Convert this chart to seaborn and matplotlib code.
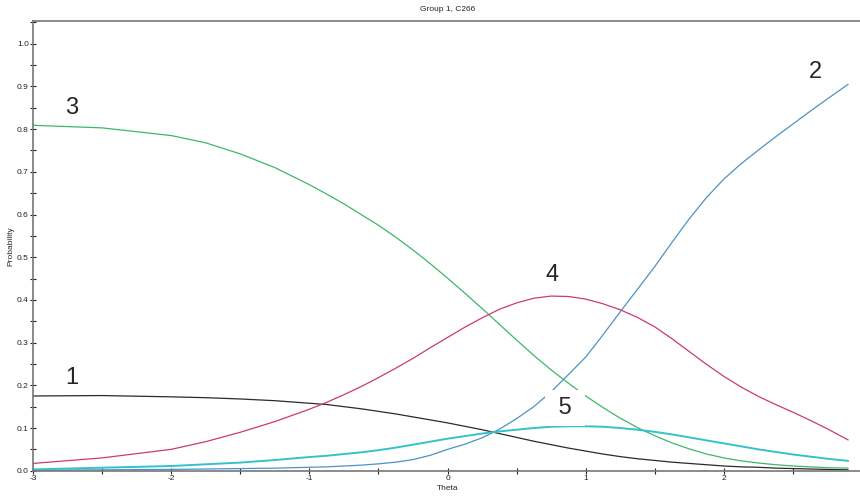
import pandas as pd
import seaborn as sns
from matplotlib import pyplot
from matplotlib.ticker import MultipleLocator

theta = [-3, -2.5, -2, -1.75, -1.5, -1.25, -1, -0.875, -0.75, -0.625,
         -0.5, -0.375, -0.25, -0.125, 0, 0.125, 0.25, 0.375, 0.5, 0.625,
         0.75, 0.875, 1.0, 1.125, 1.25, 1.375, 1.5, 1.625, 1.75, 1.875,
         2.0, 2.125, 2.25, 2.375, 2.5, 2.625, 2.75, 2.9]

## category response curves
cat1 = [.175, .176, .173, .171, .168, .164, .158, .155, .150, .145,
        .139, .133, .126, .119, .112, .104, .096, .087, .078, .069,
        .061, .053, .046, .039, .033, .028, .024, .020, .017, .014,
        .011, .009, .008, .006, .005, .004, .003, .002]
cat2 = [.001, .002, .003, .004, .005, .006, .008, .009, .011, .013,
        .016, .020, .026, .036, .050, .062, .077, .097, .122, .150,
        .185, .225, .266, .318, .372, .425, .478, .535, .590, .640,
        .683, .719, .751, .782, .812, .842, .871, .905]
cat3 = [.809, .803, .785, .768, .742, .710, .670, .648, .625, .600,
        .575, .547, .517, .485, .451, .416, .380, .343, .306, .270,
        .236, .205, .175, .148, .123, .101, .082, .065, .051, .039,
        .030, .023, .018, .014, .011, .009, .007, .006]
cat4 = [.017, .030, .050, .068, .090, .115, .144, .160, .178, .197,
        .218, .240, .263, .288, .312, .336, .358, .378, .393, .404,
        .409, .408, .402, .391, .377, .359, .337, .309, .279, .249,
        .221, .196, .174, .155, .137, .118, .098, .072]
cat5 = [.003, .007, .011, .015, .019, .025, .032, .035, .039, .043,
        .048, .054, .061, .068, .075, .081, .087, .092, .096, .100,
        .103, .104, .104, .103, .100, .096, .091, .085, .078, .071,
        .064, .057, .050, .044, .038, .033, .028, .023]

labels = ['1', '2', '3', '4', '5']
colors = ['#2b2b2b', '#4b93c6', '#3db86a', '#cc3a6e', '#35c1c9']

df = pd.DataFrame({'Theta': theta * 5,
                   'Probability': cat1 + cat2 + cat3 + cat4 + cat5,
                   'cat': [l for l in labels for _ in theta]})

sns.set_style("ticks")
pyplot.rcParams['font.family'] = ['Liberation Sans', 'DejaVu Sans']
pyplot.rcParams['axes.unicode_minus'] = False

fig = pyplot.figure(figsize=(8.6, 5.01), dpi=100)
ax = fig.add_axes([33 / 860, 1 - 470.7 / 501, (862 - 33) / 860, 450 / 501])

sns.lineplot(data=df, x='Theta', y='Probability', hue='cat',
             palette=dict(zip(labels, colors)), legend=False, ax=ax,
             linewidth=0.9)
ax.lines[4].set_linewidth(1.4)

ax.set_xlim(-3, 3)
ax.set_ylim(0, 1.054)
ax.xaxis.set_minor_locator(MultipleLocator(0.5))
ax.yaxis.set_minor_locator(MultipleLocator(0.05))
ax.set_yticks([i / 10 for i in range(11)])
ax.set_yticklabels([f"{i / 10:.1f}" for i in range(11)])
ax.set_xticks([-3, -2, -1, 0, 1, 2])
ax.set_xticklabels(['-3', '-2', '-1', '0', '1', '2'])
ax.tick_params(which='both', direction='inout', length=4, width=0.8,
               color='#222222', labelsize=6, pad=1, labelcolor='#222222')
ax.tick_params(top=False, right=False)
for s in ax.spines.values():
    s.set_color('#777777')
    s.set_linewidth(1.2)
ax.spines['right'].set_visible(False)

ax.set_xlabel('Theta', fontsize=6, labelpad=2)
ax.set_ylabel('Probability', fontsize=6, labelpad=2)
ax.set_title('Group 1, C266', fontsize=6, pad=7)

## category labels next to the curves
ax.text(-2.72, 0.85, '3', fontsize=17, ha='center', va='center')
ax.text(-2.72, 0.217, '1', fontsize=17, ha='center', va='center')
ax.text(0.76, 0.458, '4', fontsize=17, ha='center', va='center')
ax.text(2.66, 0.934, '2', fontsize=17, ha='center', va='center')
ax.text(0.85, 0.147, ' 5 ', fontsize=17, ha='center', va='center', zorder=5,
        bbox=dict(facecolor='white', edgecolor='none', pad=5))

fig.savefig('out.png', dpi=100)
